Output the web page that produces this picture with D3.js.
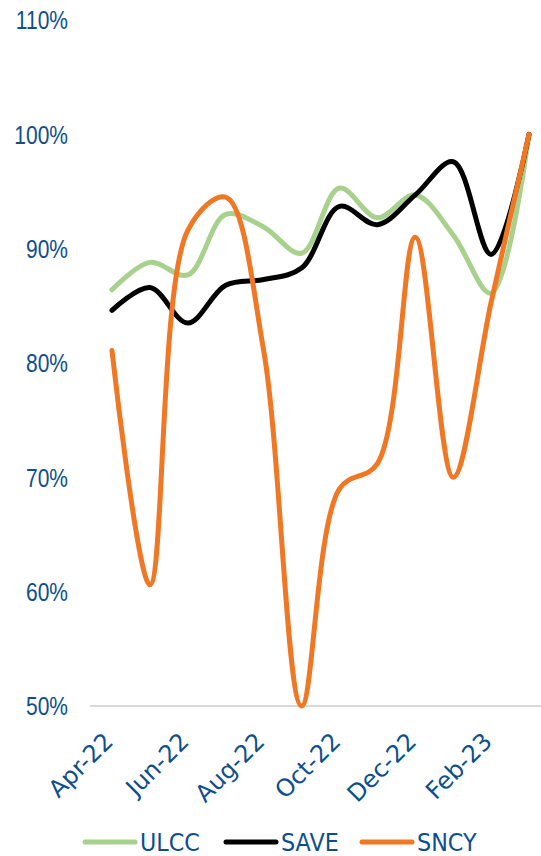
<!DOCTYPE html>
<html>
<head>
<meta charset="utf-8">
<script src="https://cdn.jsdelivr.net/npm/d3@7"></script>
<style>
  body { margin: 0; background: #fff; }
  text { fill: #0E4F8B; }
</style>
</head>
<body>
<script>
// months shown on the axis (every second label is printed)
const months = ["Apr-22","May-22","Jun-22","Jul-22","Aug-22","Sep-22","Oct-22","Nov-22","Dec-22","Jan-23","Feb-23","Mar-23"];
const shownMonths = ["Apr-22","Jun-22","Aug-22","Oct-22","Dec-22","Feb-23"];
const yTicks = [50, 60, 70, 80, 90, 100, 110];

const ulcc = [86.4, 88.8, 87.7, 93.0, 91.9, 89.6, 95.3, 92.7, 94.7, 91.2, 86.1, 100];
const save = [84.6, 86.6, 83.5, 86.8, 87.3, 88.3, 93.7, 92.1, 94.7, 97.6, 89.5, 100];
const sncy = [81.1, 60.6, 91.6, 94.5, 81.1, 50.0, 69.0, 71.2, 91.0, 70.0, 85.3, 100];

const series = [
  {name: "ULCC", values: ulcc, color: "#A9D18E"},
  {name: "SAVE", values: save, color: "#000000"},
  {name: "SNCY", values: sncy, color: "#F07824"}
];

const width = 541, height = 856;

const svg = d3.select("body").append("svg")
    .attr("width", width)
    .attr("height", height);

const x = d3.scalePoint()
    .domain(months)
    .range([93, 548])
    .padding(0.5);

const y = d3.scaleLinear()
    .domain([50, 110])
    .range([706, 20]);

// baseline
svg.append("line")
    .attr("x1", 90).attr("x2", width)
    .attr("y1", y(50)).attr("y2", y(50))
    .attr("stroke", "#D9D9D9")
    .attr("stroke-width", 2);

// y axis labels
const yAxis = svg.append("g")
    .attr("transform", "translate(68,0)")
    .call(d3.axisLeft(y).tickValues(yTicks).tickSize(0).tickPadding(0).tickFormat(d => d + "%"));
yAxis.select(".domain").remove();
yAxis.selectAll("text")
    .attr("x", 0)
    .attr("dy", "0.35em")
    .attr("transform", "scale(0.84,1)")
    .style("font-family", "'Liberation Sans', Arial, sans-serif")
    .style("font-size", "25px")
    .style("fill", "#0E4F8B");

// x axis labels
const xAxis = svg.append("g")
    .attr("transform", "translate(0," + y(50) + ")")
    .call(d3.axisBottom(x).tickValues(shownMonths).tickSize(0));
xAxis.select(".domain").remove();
xAxis.selectAll("text")
    .attr("x", 0)
    .attr("y", 0)
    .attr("dy", 0)
    .attr("text-anchor", "end")
    .attr("transform", "translate(2,37) rotate(-45)")
    .style("font-family", "'DejaVu Sans', Verdana, sans-serif")
    .style("font-size", "24px")
    .style("fill", "#0E4F8B");

// lines
const line = d3.line()
    .x((d, i) => x(months[i]))
    .y(d => y(d))
    .curve(d3.curveCatmullRom.alpha(0.5));

svg.selectAll(".series")
  .data(series)
  .enter().append("path")
    .attr("class", "series")
    .attr("d", d => line(d.values))
    .attr("fill", "none")
    .attr("stroke", d => d.color)
    .attr("stroke-width", 5)
    .attr("stroke-linecap", "round")
    .attr("stroke-linejoin", "round");

// legend
const legendX = [83, 224, 360];
const legend = svg.selectAll(".legend")
  .data(series)
  .enter().append("g")
    .attr("class", "legend")
    .attr("transform", (d, i) => "translate(" + legendX[i] + ",842)");

legend.append("line")
    .attr("x1", 2).attr("x2", 52)
    .attr("stroke", d => d.color)
    .attr("stroke-width", 5)
    .attr("stroke-linecap", "round");

legend.append("text")
    .attr("x", 57 / 0.93)
    .attr("y", 8.5)
    .attr("transform", "scale(0.93,1)")
    .style("font-family", "'DejaVu Sans', Verdana, sans-serif")
    .style("font-size", "24px")
    .text(d => d.name);
</script>
</body>
</html>
